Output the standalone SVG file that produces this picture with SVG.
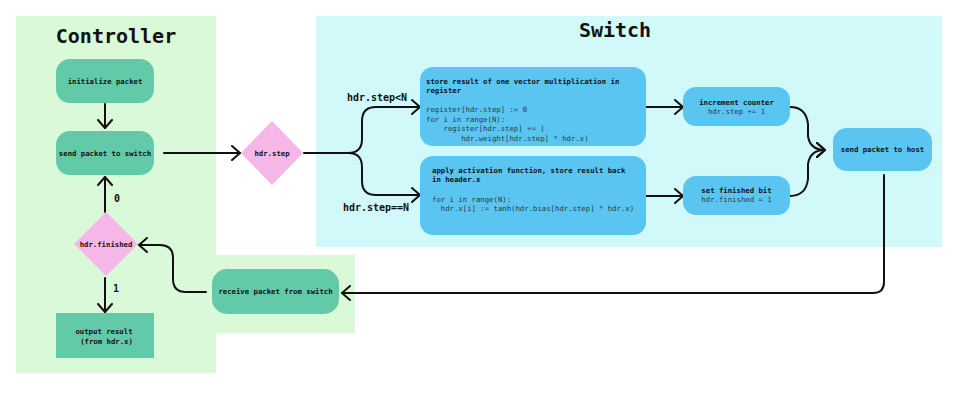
<svg xmlns="http://www.w3.org/2000/svg" width="961" height="403" viewBox="0 0 961 403">
<defs>
<marker id="arr" viewBox="0 0 10 16" refX="9" refY="8" markerWidth="10" markerHeight="16" markerUnits="userSpaceOnUse" orient="auto">
<path d="M1,1 L9,8 L1,15" fill="none" stroke="#111" stroke-width="2" stroke-linecap="round" stroke-linejoin="round"/>
</marker>
</defs>
<style>
text{font-family:"DejaVu Sans Mono","Liberation Mono",monospace;fill:#111}
.title{font-size:20px;font-weight:bold}
.n{font-size:7.3px;font-weight:bold}
.c{font-size:7.3px;fill:#2a3a48}
.lbl{font-size:10px;font-weight:bold}
.green{fill:#63caa9}
.blue{fill:#5bc5f2}
.pink{fill:#f5b7e7}
.conn{fill:none;stroke:#111;stroke-width:2;stroke-linecap:round;stroke-linejoin:round}
</style>
<rect width="961" height="403" fill="#fff"/>
<g id="panel-controller">
<rect x="16" y="16" width="200" height="357" fill="#d9f9d8"/>
<rect x="216" y="255" width="139" height="78" fill="#d9f9d8"/>
<text class="title" x="116" y="43" text-anchor="middle">Controller</text>
</g>
<g id="panel-switch">
<rect x="316" y="16" width="626" height="231" fill="#d2f9f9"/>
<text class="title" x="615" y="37" text-anchor="middle">Switch</text>
</g>
<g id="connectors">
<path class="conn" d="M105,104 V128" marker-end="url(#arr)"/>
<path class="conn" d="M164,153 H240" marker-end="url(#arr)"/>
<path class="conn" d="M304,153 H348 Q362,153 362,139 V121 Q362,107 376,107 H420" marker-end="url(#arr)"/>
<path class="conn" d="M348,153 Q362,153 362,167 V181 Q362,195 376,195 H420" marker-end="url(#arr)"/>
<path class="conn" d="M646,107 H683" marker-end="url(#arr)"/>
<path class="conn" d="M646,196 H683" marker-end="url(#arr)"/>
<path class="conn" d="M790,107 Q806,107 808,124 V136 Q810,150 825,150" marker-end="url(#arr)"/>
<path class="conn" d="M790,196 Q806,196 808,179 V164 Q810,150 825,150" marker-end="url(#arr)"/>
<path class="conn" d="M884,175 V282 Q884,293 873,293 H342" marker-end="url(#arr)"/>
<path class="conn" d="M206,292 H186 Q173,292 173,279 V258 Q173,245 160,245 H139" marker-end="url(#arr)"/>
<path class="conn" d="M105,212 V177" marker-end="url(#arr)"/>
<path class="conn" d="M105,278 V312" marker-end="url(#arr)"/>
<text class="lbl" x="117" y="202" text-anchor="middle">0</text>
<text class="lbl" x="116" y="292" text-anchor="middle">1</text>
<text class="lbl" x="377" y="101" text-anchor="middle">hdr.step&lt;N</text>
<text class="lbl" x="376" y="211" text-anchor="middle">hdr.step==N</text>
</g>
<g id="init">
<rect class="green" x="56" y="59" width="98" height="44" rx="14"/>
<text class="n" x="105" y="83.5" text-anchor="middle">initialize packet</text>
</g>
<g id="send-switch">
<rect class="green" x="56" y="131" width="98" height="44" rx="14"/>
<text class="n" x="105" y="155.5" text-anchor="middle">send packet to switch</text>
</g>
<g id="hdr-step">
<polygon class="pink" points="241,153 272,121 303,153 272,185"/>
<text class="n" x="272" y="155.5" text-anchor="middle">hdr.step</text>
</g>
<g id="vector-mult">
<rect class="blue" x="420" y="67" width="226" height="79" rx="13"/>
<text class="n" x="426" y="83.5">store result of one vector multiplication in</text>
<text class="n" x="426" y="93">register</text>
<text class="c" x="426" y="112">register[hdr.step] := 0</text>
<text class="c" x="426" y="121.5">for i in range(N):</text>
<text class="c" x="426" y="131" xml:space="preserve">    register[hdr.step] += (</text>
<text class="c" x="426" y="140.5" xml:space="preserve">        hdr.weight[hdr.step] * hdr.x)</text>
</g>
<g id="activation">
<rect class="blue" x="420" y="156" width="226" height="79" rx="13"/>
<text class="n" x="432" y="172.5">apply activation function, store result back</text>
<text class="n" x="432" y="182">in header.x</text>
<text class="c" x="432" y="201.5">for i in range(N):</text>
<text class="c" x="432" y="211" xml:space="preserve">  hdr.x[i] := tanh(hdr.bias[hdr.step] * hdr.x)</text>
</g>
<g id="increment">
<rect class="blue" x="683" y="87" width="107" height="39" rx="13"/>
<text class="n" x="736.5" y="104.5" text-anchor="middle">increment counter</text>
<text class="c" x="736.5" y="114" text-anchor="middle">hdr.step += 1</text>
</g>
<g id="finished-bit">
<rect class="blue" x="683" y="176" width="107" height="39" rx="13"/>
<text class="n" x="736.5" y="192.5" text-anchor="middle">set finished bit</text>
<text class="c" x="736.5" y="202" text-anchor="middle">hdr.finished = 1</text>
</g>
<g id="send-host">
<rect class="blue" x="833" y="128" width="99" height="43" rx="14"/>
<text class="n" x="882.5" y="152" text-anchor="middle">send packet to host</text>
</g>
<g id="receive">
<rect class="green" x="212" y="269" width="127" height="45" rx="15"/>
<text class="n" x="275.5" y="294" text-anchor="middle">receive packet from switch</text>
</g>
<g id="hdr-finished">
<polygon class="pink" points="74,244 106,212 138,244 106,276"/>
<text class="n" x="106" y="246.5" text-anchor="middle">hdr.finished</text>
</g>
<g id="output">
<rect class="green" x="56" y="313" width="98" height="45"/>
<text class="n" x="104" y="333.5" text-anchor="middle">output result</text>
<text class="n" x="106.5" y="343.5" text-anchor="middle">(from hdr.x)</text>
</g>
</svg>
